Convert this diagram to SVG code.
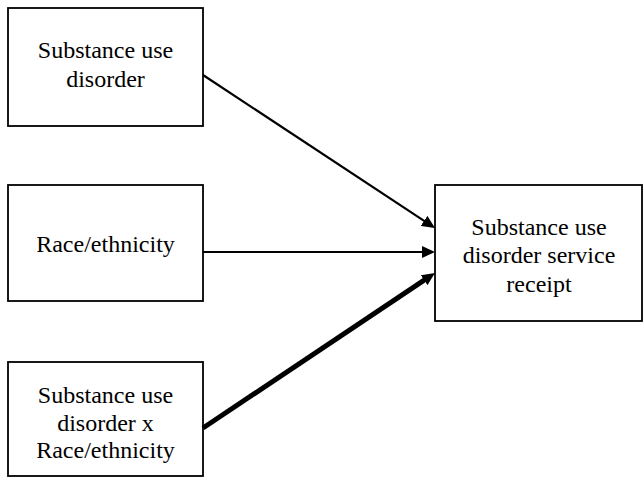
<svg xmlns="http://www.w3.org/2000/svg" width="644" height="479" viewBox="0 0 644 479">
<style>
.box{fill:#fff;stroke:#000;stroke-width:1.8}
.t{font-family:"Liberation Serif","Times New Roman",serif;font-size:24px;fill:#000;text-anchor:middle}
.c{fill:none;stroke:#000}
</style>
<defs>
<marker id="ah" markerUnits="userSpaceOnUse" markerWidth="14" markerHeight="13" refX="5" refY="6" orient="auto" viewBox="0 0 14 12">
<path d="M0,0 L13,6 L0,12 z" fill="#000"/>
</marker>
</defs>
<rect width="644" height="479" fill="#fff"/>
<g id="n1">
<rect class="box" x="8" y="8" width="195" height="118"/>
<text class="t" x="105.5" y="58">Substance use</text>
<text class="t" x="105.5" y="87">disorder</text>
</g>
<g id="n2">
<rect class="box" x="8" y="185" width="195" height="116"/>
<text class="t" x="105.5" y="252">Race/ethnicity</text>
</g>
<g id="n3">
<rect class="box" x="8" y="362" width="195" height="114"/>
<text class="t" x="105.5" y="403">Substance use</text>
<text class="t" x="105.5" y="431">disorder x</text>
<text class="t" x="105.5" y="458">Race/ethnicity</text>
</g>
<g id="n4">
<rect class="box" x="435" y="185" width="207" height="136"/>
<text class="t" x="539" y="235">Substance use</text>
<text class="t" x="539" y="263">disorder service</text>
<text class="t" x="539" y="292">receipt</text>
</g>
<g id="connectors">
<line class="c" x1="203" y1="75" x2="428.3" y2="223.6" stroke-width="2.2" marker-end="url(#ah)"/>
<line class="c" x1="203" y1="252" x2="427" y2="252" stroke-width="2.2" marker-end="url(#ah)"/>
<line class="c" x1="203" y1="428" x2="428.3" y2="277.4" stroke-width="5" marker-end="url(#ah)"/>
</g>
</svg>
